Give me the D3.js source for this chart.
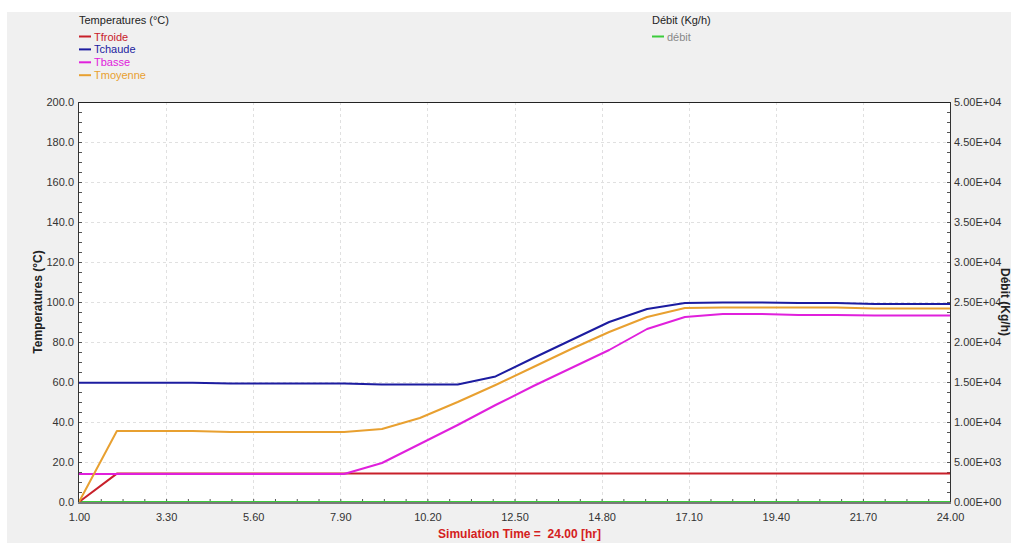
<!DOCTYPE html>
<html>
<head>
<meta charset="utf-8">
<script src="https://cdn.jsdelivr.net/npm/d3@7"></script>
<style>
  html, body { margin: 0; padding: 0; background: #ffffff; }
  svg { display: block; font-family: Arial, "Liberation Sans", sans-serif; }
</style>
</head>
<body>
<svg id="chart" width="1011" height="543"></svg>
<script>
// Simulation output, one sample per hour
const hours    = [1, 2, 3, 4, 5, 6, 7, 8, 9, 10, 11, 12, 13, 14, 15, 16, 17, 18, 19, 20, 21, 22, 23, 24];
const tFroide  = [0, 14.2, 14.2, 14.2, 14.2, 14.2, 14.2, 14.2, 14.2, 14.2, 14.2, 14.2, 14.2, 14.2, 14.2, 14.2, 14.2, 14.2, 14.2, 14.2, 14.2, 14.2, 14.2, 14.2];
const tChaude  = [59.6, 59.6, 59.6, 59.6, 59.2, 59.2, 59.2, 59.2, 58.7, 58.7, 58.7, 62.8, 72, 81, 90, 96.5, 99.5, 99.8, 99.8, 99.5, 99.5, 99, 99, 99];
const tBasse   = [14, 14, 14, 14, 14, 14, 14, 14, 19.5, 29, 38.5, 48.5, 58, 67, 76, 86.5, 92.5, 94, 94, 93.5, 93.5, 93.2, 93.2, 93.2];
const tMoyenne = [0, 35.5, 35.5, 35.5, 35, 35, 35, 35, 36.5, 42, 50, 58.5, 67.5, 76.5, 85, 92.5, 97, 97.3, 97.3, 97.3, 97.3, 96.7, 96.7, 96.7];
const debit    = [0, 0, 0, 0, 0, 0, 0, 0, 0, 0, 0, 0, 0, 0, 0, 0, 0, 0, 0, 0, 0, 0, 0, 0];

// Axis tick values
const xTicks     = [1.00, 3.30, 5.60, 7.90, 10.20, 12.50, 14.80, 17.10, 19.40, 21.70, 24.00];
const yTicks     = [0, 20, 40, 60, 80, 100, 120, 140, 160, 180, 200];
const debitTicks = [0, 5000, 10000, 15000, 20000, 25000, 30000, 35000, 40000, 45000, 50000];

const tempSeries = [
  { name: "Tfroide",  values: tFroide,  color: "#c8202a" },
  { name: "Tchaude",  values: tChaude,  color: "#1c1ca0" },
  { name: "Tbasse",   values: tBasse,   color: "#e020dc" },
  { name: "Tmoyenne", values: tMoyenne, color: "#e8a030" }
];
const debitSeries = { name: "débit", values: debit, color: "#3ccc3c" };

const svg = d3.select("#chart");
const W = 1011, H = 543;
const plot = { left: 79, right: 950, top: 102, bottom: 502 };

// Window background
svg.append("rect").attr("x", 7).attr("y", 12).attr("width", W - 7).attr("height", H - 12).attr("fill", "#f0f0f0");
svg.append("rect")
  .attr("x", plot.left).attr("y", plot.top)
  .attr("width", plot.right - plot.left).attr("height", plot.bottom - plot.top)
  .attr("fill", "#ffffff");

const x = d3.scaleLinear().domain([1, 24]).range([plot.left, plot.right]);
const y = d3.scaleLinear().domain([0, 200]).range([plot.bottom, plot.top]);
const y2 = d3.scaleLinear().domain([0, 50000]).range([plot.bottom, plot.top]);

// Dashed grid on major ticks
const grid = svg.append("g").attr("stroke", "#e0e0e0").attr("stroke-dasharray", "3,3").attr("stroke-width", 1);
grid.selectAll("line.v").data(xTicks.slice(1, -1)).join("line")
  .attr("x1", d => Math.round(x(d)) + 0.5).attr("x2", d => Math.round(x(d)) + 0.5)
  .attr("y1", plot.top).attr("y2", plot.bottom);
grid.selectAll("line.h").data(yTicks.slice(1, -1)).join("line")
  .attr("x1", plot.left).attr("x2", plot.right)
  .attr("y1", d => Math.round(y(d)) + 0.5).attr("y2", d => Math.round(y(d)) + 0.5);

// Minor tick values between the labelled ones
const xMinor = d3.range(0, 41).map(i => 1 + i * 0.575).filter(v => v <= 24.0001);
const yMinor = d3.range(0, 41).map(i => i * 5);
const y2Minor = d3.range(0, 41).map(i => i * 1250);

function styleAxis(g) {
  g.select(".domain").remove();
  g.selectAll(".tick line").attr("stroke", "#555");
  g.selectAll(".tick text").attr("fill", "#333").attr("font-size", 11);
}

// Minor ticks (drawn inward)
svg.append("g").attr("transform", `translate(0,${plot.bottom})`)
  .call(d3.axisTop(x).tickValues(xMinor).tickSize(3).tickFormat(""))
  .call(styleAxis);
svg.append("g").attr("transform", `translate(${plot.left},0)`)
  .call(d3.axisRight(y).tickValues(yMinor).tickSize(3).tickFormat(""))
  .call(styleAxis);
svg.append("g").attr("transform", `translate(${plot.right},0)`)
  .call(d3.axisLeft(y2).tickValues(y2Minor).tickSize(3).tickFormat(""))
  .call(styleAxis);

// Labelled axes
svg.append("g").attr("transform", `translate(0,${plot.bottom})`)
  .call(d3.axisBottom(x).tickValues(xTicks).tickSize(0).tickPadding(11).tickFormat(d3.format(".2f")))
  .call(styleAxis);
svg.append("g").attr("transform", `translate(${plot.left},0)`)
  .call(d3.axisLeft(y).tickValues(yTicks).tickSize(0).tickPadding(5).tickFormat(d3.format(".1f")))
  .call(styleAxis);
svg.append("g").attr("transform", `translate(${plot.right},0)`)
  .call(d3.axisRight(y2).tickValues(debitTicks).tickSize(0).tickPadding(4)
    .tickFormat(d => { const s = d.toExponential(2).toUpperCase(); return s.replace(/E([+-])(\d)$/, "E$10$2"); }))
  .call(styleAxis);

// Series lines
const lineGen = vals => d3.line().x((d, i) => x(hours[i])).y(d => y(d))(vals);
const lines = svg.append("g").attr("fill", "none").attr("stroke-width", 2).attr("stroke-linejoin", "round");
lines.append("path").attr("d", d3.line().x((d, i) => x(hours[i])).y(d => y2(d))(debitSeries.values))
  .attr("stroke", debitSeries.color);
tempSeries.forEach(s => {
  lines.append("path").attr("d", lineGen(s.values)).attr("stroke", s.color);
});

// Frame
svg.append("line").attr("x1", plot.left).attr("x2", plot.right).attr("y1", plot.top + 0.5).attr("y2", plot.top + 0.5).attr("stroke", "#222");
svg.append("line").attr("x1", plot.left - 0.5).attr("x2", plot.left - 0.5).attr("y1", plot.top).attr("y2", plot.bottom).attr("stroke", "#333");
svg.append("line").attr("x1", plot.right + 0.5).attr("x2", plot.right + 0.5).attr("y1", plot.top).attr("y2", plot.bottom).attr("stroke", "#333");
svg.append("line").attr("x1", plot.left - 1).attr("x2", plot.right + 1).attr("y1", plot.bottom + 1).attr("y2", plot.bottom + 1).attr("stroke", "#7a7a7a").attr("stroke-width", 2);

// Axis titles
svg.append("text")
  .attr("transform", `translate(42,${(plot.top + plot.bottom) / 2}) rotate(-90)`)
  .attr("text-anchor", "middle").attr("font-size", 12).attr("font-weight", "bold").attr("fill", "#222")
  .text("Temperatures (°C)");
svg.append("text")
  .attr("transform", `translate(1001,${(plot.top + plot.bottom) / 2}) rotate(90)`)
  .attr("text-anchor", "middle").attr("font-size", 12).attr("font-weight", "bold").attr("fill", "#222")
  .text("Débit (Kg/h)");
svg.append("text")
  .attr("x", (plot.left + plot.right) / 2 + 5).attr("y", 538)
  .attr("text-anchor", "middle").attr("font-size", 12).attr("font-weight", "bold").attr("fill", "#d42020")
  .attr("xml:space", "preserve")
  .text("Simulation Time =  24.00 [hr]");

// Legends
const legT = svg.append("g").attr("transform", "translate(79,0)");
legT.append("text").attr("x", 0).attr("y", 24).attr("font-size", 11).attr("fill", "#222").text("Temperatures (°C)");
tempSeries.forEach((s, i) => {
  const cy = 36.5 + i * 12.9;
  legT.append("line").attr("x1", 0).attr("x2", 12).attr("y1", cy).attr("y2", cy).attr("stroke", s.color).attr("stroke-width", 2);
  legT.append("text").attr("x", 15).attr("y", cy + 4).attr("font-size", 11).attr("fill", s.color).text(s.name);
});

const legD = svg.append("g").attr("transform", "translate(652,0)");
legD.append("text").attr("x", 0).attr("y", 24).attr("font-size", 11).attr("fill", "#222").text("Débit (Kg/h)");
legD.append("line").attr("x1", 0).attr("x2", 12).attr("y1", 36.5).attr("y2", 36.5).attr("stroke", debitSeries.color).attr("stroke-width", 2);
legD.append("text").attr("x", 15).attr("y", 40.5).attr("font-size", 11).attr("fill", "#888").text(debitSeries.name);
</script>
</body>
</html>
